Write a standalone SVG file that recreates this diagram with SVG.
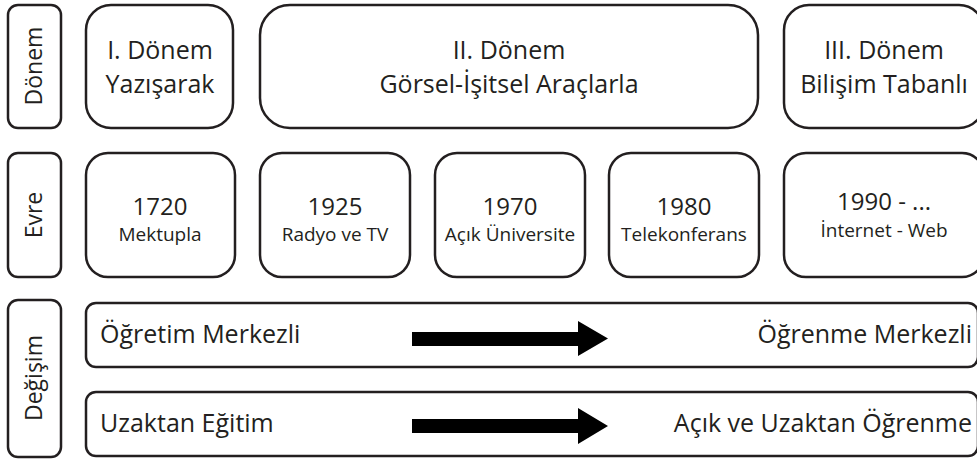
<svg xmlns="http://www.w3.org/2000/svg" width="977" height="459" viewBox="0 0 977 459">
<style>
.box{fill:#fff;stroke:#231f20;stroke-width:2.5}
text{font-family:"Open Sans","Noto Sans",sans-serif;fill:#231f20}
.t{font-size:25px;text-anchor:middle}
.y{font-size:24px;text-anchor:middle}
.s{font-size:19px;text-anchor:middle}
.v{font-size:23px;text-anchor:middle}
.r{font-size:25px}
.arrow{fill:#000}
</style>
<rect width="977" height="459" fill="#fff"/>
<g id="label-donem">
<rect class="box" x="8" y="5" width="53" height="123" rx="10"/>
<text class="v" transform="translate(42,66) rotate(-90)">Dönem</text>
</g>
<g id="label-evre">
<rect class="box" x="8" y="153" width="53" height="124" rx="10"/>
<text class="v" transform="translate(42,215) rotate(-90)">Evre</text>
</g>
<g id="label-degisim">
<rect class="box" x="8" y="300" width="53" height="157" rx="10"/>
<text class="v" transform="translate(42,378) rotate(-90)">Değişim</text>
</g>
<g id="donem1">
<rect class="box" x="86" y="5" width="147" height="123" rx="25"/>
<text class="t" x="160" y="59">I. Dönem</text>
<text class="t" x="160" y="93">Yazışarak</text>
</g>
<g id="donem2">
<rect class="box" x="260" y="5" width="498" height="123" rx="30"/>
<text class="t" x="509" y="59">II. Dönem</text>
<text class="t" x="509" y="93">Görsel-İşitsel Araçlarla</text>
</g>
<g id="donem3">
<rect class="box" x="784" y="5" width="200" height="123" rx="25"/>
<text class="t" x="884" y="59">III. Dönem</text>
<text class="t" x="884" y="93">Bilişim Tabanlı</text>
</g>
<g id="evre1720">
<rect class="box" x="86" y="153" width="149" height="124" rx="22"/>
<text class="y" x="160" y="215">1720</text>
<text class="s" x="160" y="241">Mektupla</text>
</g>
<g id="evre1925">
<rect class="box" x="260" y="153" width="150" height="124" rx="22"/>
<text class="y" x="335" y="215">1925</text>
<text class="s" x="335" y="241">Radyo ve TV</text>
</g>
<g id="evre1970">
<rect class="box" x="435" y="153" width="150" height="124" rx="22"/>
<text class="y" x="510" y="215">1970</text>
<text class="s" x="510" y="241">Açık Üniversite</text>
</g>
<g id="evre1980">
<rect class="box" x="609" y="153" width="150" height="124" rx="22"/>
<text class="y" x="684" y="215">1980</text>
<text class="s" x="684" y="241">Telekonferans</text>
</g>
<g id="evre1990">
<rect class="box" x="784" y="153" width="200" height="124" rx="22"/>
<text class="y" x="884" y="210">1990 - ...</text>
<text class="s" x="884" y="237">İnternet - Web</text>
</g>
<g id="degisim1">
<rect class="box" x="86" y="303" width="892" height="64" rx="10"/>
<text class="r" x="100" y="343">Öğretim Merkezli</text>
<text class="r" x="972" y="343" text-anchor="end">Öğrenme Merkezli</text>
</g>
<g id="degisim2">
<rect class="box" x="86" y="392" width="892" height="64" rx="10"/>
<text class="r" x="100" y="432">Uzaktan Eğitim</text>
<text class="r" x="972" y="432" text-anchor="end">Açık ve Uzaktan Öğrenme</text>
</g>
<g id="connectors">
<polygon class="arrow" points="412,332 578,332 578,321 608,338.5 578,356 578,346 412,346"/>
<polygon class="arrow" points="412,419 578,419 578,408 608,426 578,444 578,433 412,433"/>
</g>
</svg>
